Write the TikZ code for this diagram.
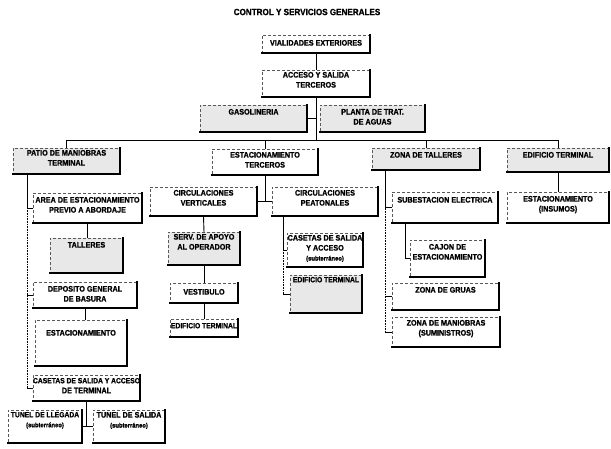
\documentclass[tikz,border=0pt]{standalone}
\usepackage{fontspec}
\setmainfont{Liberation Sans}[BoldFont={Liberation Sans Bold}, FakeStretch=0.9, BoldFeatures={FakeStretch=0.9, FakeBold=1.2}]
\tikzset{
  box/.style={draw=black!65, densely dashed, line width=0.4pt, inner sep=0pt, outer sep=0pt, anchor=north west},
  sh/.style={fill=black!9},
  shd/.style={line width=1.5pt, line cap=rect},
  ln/.style={line width=0.9pt, line cap=rect},
  dsh/.style={line width=0.6pt, densely dotted},
}
\newcommand\mybox[8]{%
  \node[box,#7] (#1) at (#2,#3) {\parbox[t][\dimexpr#5pt-#3pt\relax][t]{\dimexpr#4pt-#2pt\relax}{\centering\vspace*{#6pt}#8\par}};
  \draw[shd] (#1.north east) -- (#1.south east) -- (#1.south west);
}
\newcommand\sm{\fontsize{6.5}{9}\selectfont}
\newcommand\nb{\fontsize{7.5}{10}\selectfont}
\begin{document}
\begin{tikzpicture}[x=1pt,y=-1pt,font=\fontsize{8}{10}\selectfont\bfseries]
\useasboundingbox (0,0) rectangle (611,448);
\node[font=\fontsize{9}{11}\selectfont\bfseries] (title) at (307,12) {CONTROL Y SERVICIOS GENERALES};
\coordinate (bus) at (0,140);
\coordinate (ls) at (27,0);
\coordinate (ps) at (283,0);
\coordinate (rs) at (385,0);
\coordinate (cs) at (405,0);
% top
\mybox{viai}{262}{35}{370}{53}{5}{}{VIALIDADES EXTERIORES}
\mybox{acc}{262}{70}{370}{97}{2}{}{ACCESO Y SALIDA\\TERCEROS}
\mybox{gas}{200}{105}{307}{132}{4}{sh}{GASOLINERIA}
\mybox{plan}{320}{105}{425}{132}{4}{sh}{PLANTA DE TRAT.\\DE AGUAS}
% left
\mybox{patio}{13}{148}{120}{174}{2}{sh}{PATIO DE MANIOBRAS\\TERMINAL}
\mybox{area}{33}{193}{142}{223}{4}{}{AREA DE ESTACIONAMIENTO\\PREVIO A ABORDAJE}
\mybox{tall}{50}{238}{123}{273}{4}{sh}{TALLERES}
\mybox{depo}{33}{282}{137}{308}{4}{}{DEPOSITO GENERAL\\DE BASURA}
\mybox{est}{35}{320}{127}{366}{10}{}{ESTACIONAMIENTO}
\mybox{cas}{33}{375}{140}{401}{3}{}{{\nb CASETAS DE SALIDA Y ACCESO}\\DE TERMINAL}
\mybox{tll}{8}{410}{82}{443}{2}{}{{\nb TUNEL DE LLEGADA}\\{\sm(subterráneo)}}
\mybox{tsa}{93}{410}{165}{443}{2}{}{TUNEL DE SALIDA\\{\sm(subterráneo)}}
% middle
\mybox{estt}{212}{149}{318}{175}{3}{}{ESTACIONAMIENTO\\TERCEROS}
\mybox{cv}{150}{187}{257}{216}{3}{}{CIRCULACIONES\\VERTICALES}
\mybox{cp}{272}{187}{378}{216}{3}{}{CIRCULACIONES\\PEATONALES}
\mybox{serv}{168}{232}{240}{265}{2}{sh}{SERV. DE APOYO\\AL OPERADOR}
\mybox{vest}{170}{283}{238}{303}{6}{}{VESTIBULO}
\mybox{edt1}{170}{319}{238}{337}{4}{}{{\nb EDIFICIO TERMINAL}}
\mybox{casp}{287}{233}{363}{267}{2}{}{CASETAS DE SALIDA\\Y ACCESO\\{\sm(subterráneo)}}
\mybox{edt2}{290}{275}{362}{313}{2}{sh}{{\nb EDIFICIO TERMINAL}}
% right
\mybox{zt}{372}{148}{480}{170}{4}{sh}{ZONA DE TALLERES}
\mybox{edt3}{507}{148}{609}{172}{4}{sh}{EDIFICIO TERMINAL}
\mybox{sub}{392}{192}{498}{223}{5}{}{SUBESTACION ELECTRICA}
\mybox{caj}{410}{240}{485}{277}{4}{}{CAJON DE\\ESTACIONAMIENTO}
\mybox{gru}{392}{283}{499}{310}{4}{}{ZONA DE GRUAS}
\mybox{man}{392}{317}{500}{347}{3}{}{ZONA DE MANIOBRAS\\(SUMINISTROS)}
\mybox{ins}{507}{192}{609}{223}{4}{}{ESTACIONAMIENTO\\(INSUMOS)}
% connectors top
\draw[ln] (viai.south) -- (acc.north);
\draw[ln] (acc.south) -- (acc.south |- bus);
\draw[ln] (acc.south |- gas.east) -- (gas.east);
\draw[ln] (patio.north) -- (patio.north |- bus) -- (edt3.north |- bus) -- (edt3.north);
\draw[ln] (estt.north) -- (estt.north |- bus);
\draw[ln] (zt.north) -- (zt.north |- bus);
% left
\draw[ln] (patio.south -| ls) -- (area.west -| ls) -- (area.west);
\draw[dsh] (area.west -| ls) -- (cas.west -| ls);
\draw[ln] (depo.west -| ls) -- (depo.west);
\draw[ln] (cas.west -| ls) -- (cas.west);
\draw[ln] (area.south) -- (area.south |- tall.north);
\draw[ln] (depo.south) -- (depo.south |- est.north);
\draw[ln] (cas.south) -- (cas.south |- tll.east);
\draw[ln] (tll.east) -- (tsa.west);
% middle
\draw[ln] (estt.south) -- (estt.south |- cv.east);
\draw[ln] (cv.east) -- (cp.west);
\draw[ln] (cv.south) -- (serv.north);
\draw[ln] (serv.south) -- (vest.north);
\draw[ln] (vest.south) -- (edt1.north);
\draw[ln] (cp.south -| ps) -- (casp.west -| ps) -- (casp.west);
\draw[dsh] (casp.west -| ps) -- (edt2.west -| ps);
\draw[ln] (edt2.west -| ps) -- (edt2.west);
% right
\draw[ln] (zt.south -| rs) -- (sub.west -| rs) -- (sub.west);
\draw[dsh] (sub.west -| rs) -- (man.west -| rs);
\draw[ln] (gru.west -| rs) -- (gru.west);
\draw[ln] (man.west -| rs) -- (man.west);
\draw[ln] (sub.south -| cs) -- (caj.west -| cs) -- (caj.west);
\draw[ln] (edt3.south) -- (ins.north);
\end{tikzpicture}
\end{document}
